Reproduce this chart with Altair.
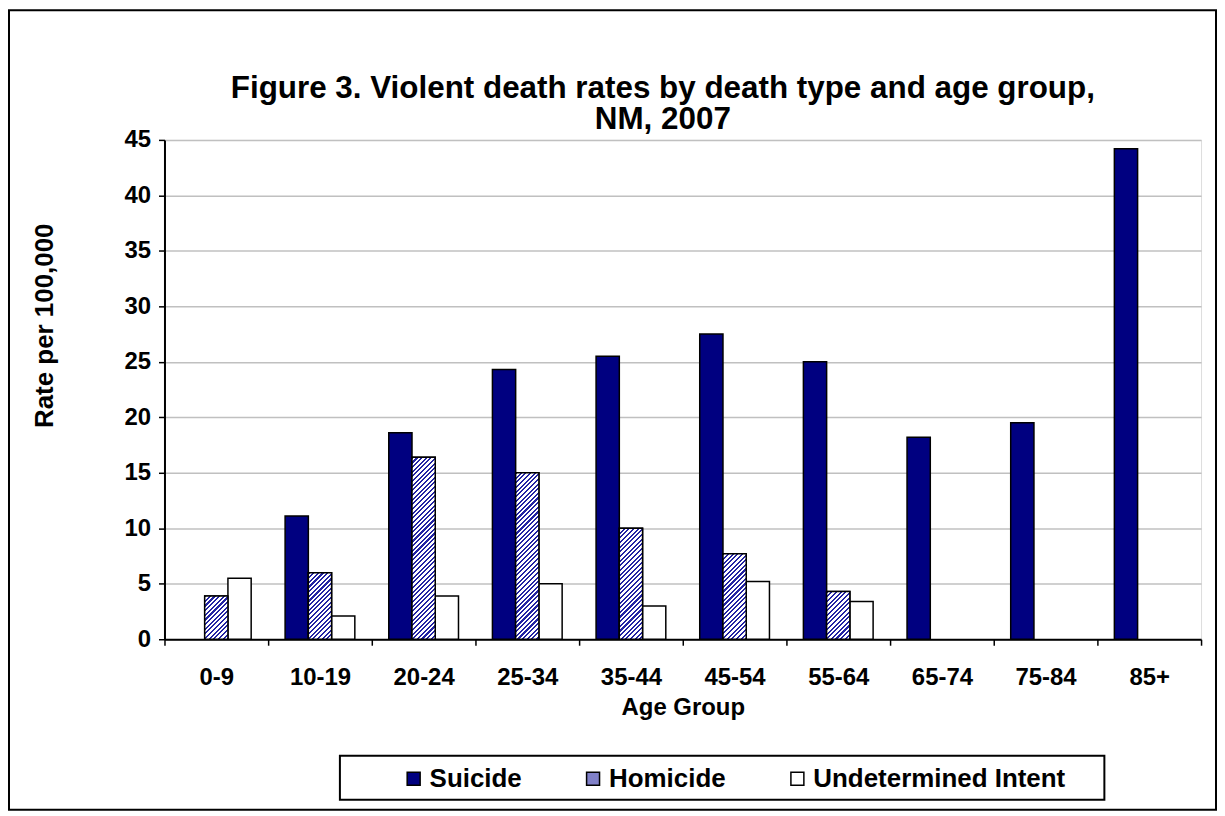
import math
import altair as alt
import pandas as pd

# ---- data ----
ages = ["0-9", "10-19", "20-24", "25-34", "35-44", "45-54", "55-64", "65-74", "75-84", "85+"]
types = ["Suicide", "Homicide", "Undetermined Intent"]
suicide = [None, 11.1, 18.6, 24.3, 25.5, 27.5, 25.0, 18.2, 19.5, 44.2]
homicide = [3.9, 6.0, 16.4, 15.0, 10.0, 7.7, 4.3, None, None, None]
undetermined = [5.5, 2.1, 3.9, 5.0, 3.0, 5.2, 3.4, None, None, None]
y_ticks = [0, 5, 10, 15, 20, 25, 30, 35, 40, 45]
title_lines = ["Figure 3. Violent death rates by death type and age group,", "NM, 2007"]

rows = []
for series, vals in zip(types, [suicide, homicide, undetermined]):
    for a, v in zip(ages, vals):
        if v is not None:
            rows.append({"age": a, "type": series, "rate": v})
df = pd.DataFrame(rows)

FONT = "Liberation Sans"
PLOT_W, PLOT_H = 1040, 501
YMAX = 45
BAR_W = PLOT_W / len(ages) / (3 + 2 * 0.73)


def hatch(value, pitch=3.3, c1="#2323a3", c2="#ffffff"):
    """Diagonal '/' stripes as a linear gradient in bbox units."""
    w = BAR_W
    h = value * PLOT_H / YMAX
    L = w + h
    a = w * L / (w * w + h * h)
    b = h * L / (w * w + h * h)
    n = L / (pitch * math.sqrt(2))
    period = 1.0 / n
    stops = []
    k = 0
    while k * period < 1:
        t0 = k * period
        t1 = min(t0 + period * 0.45, 1)
        t2 = min(t0 + period, 1)
        stops += [
            {"offset": round(t0, 5), "color": c1},
            {"offset": round(t1, 5), "color": c1},
            {"offset": round(t1, 5), "color": c2},
            {"offset": round(t2, 5), "color": c2},
        ]
        k += 1
    return {"gradient": "linear", "x1": 0, "y1": 0, "x2": a, "y2": b, "stops": stops}


x_enc = alt.X(
    "age:N",
    sort=ages,
    scale=alt.Scale(paddingInner=0, paddingOuter=0),
    axis=alt.Axis(
        title="Age Group",
        labelAngle=0,
        tickBand="extent",
        grid=False,
        domainColor="black",
        domainWidth=2,
        tickColor="black",
        tickSize=6,
        tickWidth=1.5,
        labelFont=FONT,
        labelFontSize=24,
        labelFontWeight="bold",
        labelColor="black",
        labelPadding=20,
        titleFont=FONT,
        titleFontSize=24,
        titleFontWeight="bold",
        titleColor="black",
        titlePadding=7,
    ),
)
xoff_enc = alt.XOffset("type:N", sort=types, scale=alt.Scale(paddingInner=0, paddingOuter=0.73))
y_enc = alt.Y(
    "rate:Q",
    scale=alt.Scale(domain=[0, YMAX], nice=False),
    axis=alt.Axis(
        title="Rate per 100,000",
        values=y_ticks,
        grid=True,
        gridColor="#c0c0c0",
        gridWidth=1.5,
        domainColor="black",
        domainWidth=2,
        tickColor="black",
        tickSize=6,
        tickWidth=1.5,
        labelFont=FONT,
        labelFontSize=24,
        labelFontWeight="bold",
        labelColor="black",
        labelPadding=8,
        titleFont=FONT,
        titleFontSize=26,
        titleFontWeight="bold",
        titleColor="black",
        titleX=-120,
        titleY=186,
        titleAngle=270,
        titleBaseline="middle",
        titleAlign="center",
    ),
)

base = alt.Chart(df).mark_bar(stroke="black", strokeWidth=1.5).encode(
    x=x_enc,
    xOffset=xoff_enc,
    y=y_enc,
    color=alt.Color(
        "type:N",
        sort=types,
        scale=alt.Scale(domain=types, range=["#000080", "#8080c8", "#ffffff"]),
        legend=alt.Legend(
            title=None,
            orient="none",
            legendX=237,
            legendY=628,
            direction="horizontal",
            columns=3,
            columnPadding=58,
            padding=0,
            symbolType="square",
            symbolSize=169,
            symbolStrokeColor="black",
            symbolStrokeWidth=1.5,
            symbolOpacity=1,
            labelFont=FONT,
            labelFontSize=26,
            labelFontWeight="bold",
            labelColor="black",
            labelOffset=3,
            labelLimit=400,
        ),
    ),
)

layers = [base]
for a, v in zip(ages, homicide):
    if v is None:
        continue
    layers.append(
        alt.Chart(df)
        .transform_filter(f"datum.age == '{a}' && datum.type == 'Homicide'")
        .mark_bar(fill=hatch(v), stroke="black", strokeWidth=1.5)
        .encode(x=x_enc, xOffset=xoff_enc, y=y_enc)
    )

frame = pd.DataFrame({"k": [0]})
legend_box = alt.Chart(frame).mark_rect(fillOpacity=0, stroke="black", strokeWidth=2).encode(
    x=alt.value(176), x2=alt.value(943), y=alt.value(618), y2=alt.value(662)
)
outer_box = alt.Chart(frame).mark_rect(fillOpacity=0, stroke="black", strokeWidth=2).encode(
    x=alt.value(-156), x2=alt.value(1055), y=alt.value(-130), y2=alt.value(672)
)
layers += [legend_box, outer_box]

chart = (
    alt.layer(*layers)
    .properties(
        width=PLOT_W,
        height=PLOT_H,
        autosize="none",
        padding={"left": 157, "top": 131, "right": 16, "bottom": 172},
        title=alt.TitleParams(
            text=title_lines,
            font=FONT,
            fontSize=31.5,
            fontWeight="bold",
            color="black",
            anchor="middle",
            baseline="bottom",
            dx=-20,
            offset=-159,
            lineHeight=32,
        ),
    )
    .configure_view(stroke="#808080", strokeWidth=2)
    .configure(background="white")
)

chart.save("out.html", embed_options={"renderer": "svg", "actions": False})
